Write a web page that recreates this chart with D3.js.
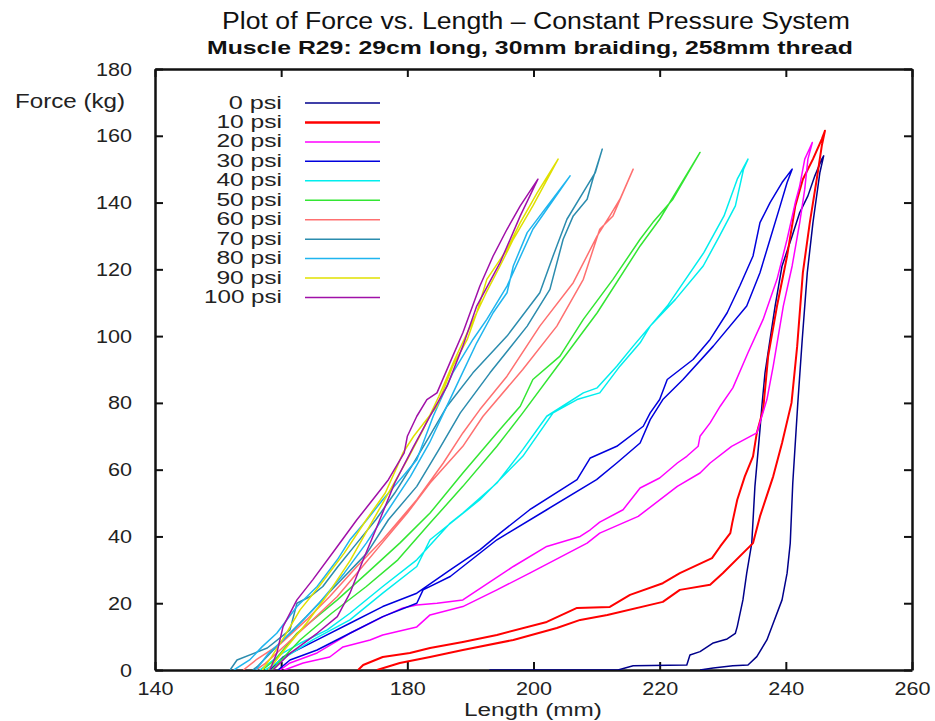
<!DOCTYPE html>
<html>
<head>
<meta charset="utf-8">
<script src="https://cdn.jsdelivr.net/npm/d3@7"></script>
<style>
  html, body { margin: 0; padding: 0; background: #fff; }
  svg { display: block; }
  text { font-family: "Liberation Sans", Arial, Helvetica, sans-serif; }
</style>
</head>
<body>
<svg id="chart" width="935" height="721"></svg>
<script>
// ---------- data ----------
const titleText = "Plot of Force vs. Length \u2013 Constant Pressure System";
const subtitleText = "Muscle R29: 29cm long, 30mm braiding, 258mm thread";
const xLabel = "Length (mm)";
const yLabel = "Force (kg)";
const xTicks = [140, 160, 180, 200, 220, 240, 260];
const yTicks = [0, 20, 40, 60, 80, 100, 120, 140, 160, 180];
const seriesNames = ["0 psi", "10 psi", "20 psi", "30 psi", "40 psi", "50 psi", "60 psi", "70 psi", "80 psi", "90 psi", "100 psi"];
const seriesColors = ["#00008b", "#ff0000", "#ff00ff", "#0000dd", "#00eeee", "#33e633", "#ff7070", "#2b8cae", "#1fb5ef", "#e0e000", "#a010a8"];

// each series: loading branch then unloading branch, [length mm, force kg]
const p0 = [[193,0],[213.4,0],[215.8,1.3],[224.3,1.5],[224.8,4.5],[226.4,5.5],[228.5,8.1],[230.7,9.3],[232,11],[232.3,13],[233.2,21],[233.8,29],[234.6,38],[235.1,55],[235.9,72],[236.2,79],[236.7,89],[237.5,99],[238.3,109],[239.4,121],[241,130],[242.2,137],[243.5,142],[244.6,148],[245.7,153],[246,154],
  [245.4,149],[244.3,134],[243.4,119],[242.6,99],[241.9,80],[241.1,56],[240.7,38],[240.2,29],[239.4,21],[238,14],[237,9],[235.4,4],[234,1.5],[231.6,1.3],[228.5,0.6],[226.4,0]];
const p10 = [[172.2,0],[173,1.5],[176.1,3.9],[180.4,5.1],[183.6,6.6],[188.8,8.4],[194.2,10.5],[202.1,14.4],[206.9,18.6],[212.1,18.9],[215.3,22.5],[220.5,26],[223.2,29],[228.3,33.5],[229.6,37],[231.2,41],[231.5,44],[232.3,51],[233.5,58],[234.8,64],[235.4,71],[236.4,78],[237.2,94],[238.6,109],[240.2,124],[241.5,139],[242.7,147],[244.3,153],[245.7,159],[246.2,161.5],
  [245.7,157],[244.9,147],[243.8,134],[242.7,119],[241.8,97],[240.9,80],[239.4,68],[238,58],[235.9,46],[234.8,38],[230,29],[228,25.5],[223.2,24],[220.5,20.4],[211.7,16.5],[207.4,15],[203.7,12.6],[196.8,9],[188.8,6],[183.6,3.9],[178.8,2.1],[175.2,0]];
const p20 = [[159.8,0],[161.4,2.1],[165.7,5.1],[170.9,11],[176.1,15.9],[179.3,18.6],[181.5,19.5],[184.7,20],[188.8,21],[196.8,31],[202.1,37],[207.4,40],[209,42],[210.5,44.3],[214.2,48],[216.9,54.5],[220,57.5],[222.8,62],[224.3,64],[226.1,67],[226.4,70],[228,74],[229.6,79],[231.6,84.5],[234,95],[236.4,105],[238.6,117],[240.2,129],[241.5,140],[242.2,145],[243,153],[244.2,158],
  [243.5,153],[243,144],[242.2,134],[241,121],[239.6,109],[238,91],[237,81],[235.4,71],[231.4,67],[228,62],[226.4,59],[222.8,55],[216.6,46],[210.5,41],[208.5,38],[199.4,29],[194.2,24],[188.8,19],[183.6,16.5],[181.5,12.9],[176.1,10.5],[174.1,9],[169.8,6.9],[167.7,3.9],[163.5,2.1],[160.5,0]];
const p30 = [[158.2,0],[160.3,3.9],[165.7,9],[170.9,14],[176.1,19],[181.5,23],[186.8,30],[191.5,36],[194.7,41],[199.4,48],[206.9,57],[209,63.5],[213.2,67],[217.4,73],[218.5,77],[220,81],[221.2,87],[225.3,93],[228,99],[230.7,107],[232.7,115],[234.8,124],[235.9,134],[237.5,140],[239.4,146],[241,150],
  [240.2,146],[239.1,139],[237.5,129],[235.9,119],[233.8,109],[228.5,97],[223.7,87],[220.5,81],[218.5,75],[216.9,68],[213.2,62],[210,57],[202.1,48],[194.2,39],[186.8,28],[182.5,24],[181.5,20],[176.1,16],[170.9,11],[165.7,6],[161.4,3],[159.5,0]];
const p40 = [[156.6,0],[160.3,5.1],[163,8],[167.3,12],[170.9,17],[176.1,25],[181.5,33],[186.8,44],[188.8,47],[194.2,56],[198.3,66],[202.1,76],[207.9,83],[210.1,84.5],[213.2,91],[215.8,97],[221.2,109],[227,125],[230.2,136],[232.3,147],[234,153],
  [233.3,150],[232,139],[229.5,130],[226.9,121],[222.5,111],[218.5,103],[216.9,98],[213.7,91],[210.5,83],[206.9,81],[203.1,77],[198.3,64],[191.5,51],[183.6,39],[181.5,31],[176.1,23],[170.9,15],[165,9],[160,3],[157.5,0]];
const p50 = [[157,0],[159,3],[162.5,11],[168.9,21],[173.6,29],[178.8,38],[183.6,47],[188.8,59],[194.2,71],[197.9,79],[199.9,87],[204.2,94],[207.9,105],[212.6,117],[216.9,129],[218.9,134],[222.1,141],[226.4,155],
  [220,135],[216.9,127],[210.1,107],[204.2,92],[198.3,77],[194.2,67],[188.8,55],[183.6,44],[178.5,33],[173.5,25],[168,17],[163,9],[160,3],[158.5,0]];
const p60 = [[154,0],[156,3],[160,8],[164,15],[167.7,22],[172,31],[176.1,39],[181.5,51],[185.7,62],[188.8,71],[191.5,78],[195.8,88],[201,103],[206.3,116],[210.1,130],[212.1,136],[213.7,141],[215.8,150],
  [214.2,143],[212.6,136],[210.5,132],[207.9,117],[203.7,103],[198.3,90],[192,76],[188.8,67],[183.6,56],[180,47],[176,38],[172,29],[168.9,22],[165,15],[161,8],[157.5,2],[156,0]];
const p70 = [[151.9,0],[153,3],[157.8,6.6],[161.4,12],[162.5,20],[164.6,22],[166.6,25],[169,31],[172,38],[175,45],[178,53],[181,62],[183.5,70],[186.3,79],[190.4,89],[195.8,100],[201,113],[203.1,124],[205.3,135],[208.5,145],[209.8,149],[210.9,156],
  [209.4,147],[208.5,141],[206.3,136],[204.7,129],[202.6,114],[199,103],[193.1,89],[188.4,77],[185,66],[181.5,55],[177,45],[173.6,35],[169,26],[164,16],[160.3,9],[156.2,1],[155.5,0]];
const p80 = [[152.5,0],[155,3],[157,7],[159.3,11],[162.5,19],[165.7,25],[168.9,33],[170.9,39],[173.6,45],[176.1,51],[179.3,58],[181.5,63],[184.1,76],[187.2,89],[190.4,99],[192.6,105],[195.8,115],[199.9,132],[205.8,148],
  [199,131],[196.8,121],[195.8,113],[193.6,107],[191,98],[188.5,88],[186,78],[183.5,68],[180.5,58],[177,48],[173.5,38],[170,29],[166,20],[162,12],[158,5],[156,0]];
const p90 = [[157,0],[158.5,4],[160.5,10],[163,18],[166,25],[170,35],[173.5,45],[176.5,53],[178.4,61],[179.3,65],[181,70],[184.7,79],[187.2,91],[189.5,99],[191,107],[192.6,117],[195.8,126],[197.9,134],[200.6,143],[203.9,153],
  [199.9,139],[196.8,129],[194.7,121],[192.5,113],[190,103],[187.5,93],[185,82],[182.5,72],[180,63],[177,53],[174,43],[171,33],[167.5,23],[164,14],[160.5,6],[158,0]];
const p100 = [[158.2,0],[159.3,5],[160.3,13],[162.5,21],[165,27],[168.9,37],[172,45],[174.1,50],[177,57],[179.5,65],[180,70],[181.5,76],[183.1,81],[184.7,83],[187.2,94],[188.8,101],[191.5,115],[193.6,124],[195.8,132],[197.9,139],[200.7,147],
  [197.9,136],[194.7,122],[191,109],[188.8,97],[186.3,85],[183.6,76],[181,67],[178,56],[175.2,43],[173,33],[170.9,23],[168.9,16],[165.7,11],[161.4,5],[158.7,0]];
const seriesData = [p0, p10, p20, p30, p40, p50, p60, p70, p80, p90, p100];

// ---------- drawing ----------
const svg = d3.select("#chart");
const mLeft = 155, mRight = 912, mTop = 69, mBottom = 670;
const x = d3.scaleLinear().domain([140, 260]).range([mLeft, mRight]);
const y = d3.scaleLinear().domain([0, 180]).range([mBottom, mTop]);

svg.append("text").attr("x", 536).attr("y", 29).attr("text-anchor", "middle")
  .attr("font-size", 23).attr("fill", "#111")
  .attr("textLength", 628).attr("lengthAdjust", "spacingAndGlyphs").text(titleText);
svg.append("text").attr("x", 530).attr("y", 54).attr("text-anchor", "middle")
  .attr("font-size", 19).attr("font-weight", "bold").attr("fill", "#111")
  .attr("textLength", 646).attr("lengthAdjust", "spacingAndGlyphs").text(subtitleText);

svg.append("defs").append("clipPath").attr("id", "clip")
  .append("rect").attr("x", mLeft).attr("y", mTop).attr("width", mRight - mLeft).attr("height", mBottom - mTop);

const line = d3.line().x(d => x(d[0])).y(d => y(d[1]));

const axisStyle = g => {
  g.select(".domain").attr("stroke", "#111").attr("stroke-width", 2.5);
  g.selectAll(".tick line").attr("stroke", "#111").attr("stroke-width", 2);
  g.selectAll(".tick text").attr("font-size", 19).attr("fill", "#222")
    .attr("font-family", "Liberation Sans, Arial, sans-serif")
    .attr("textLength", function() { return this.textContent.length * 12; })
    .attr("lengthAdjust", "spacingAndGlyphs");
};

svg.append("g").attr("transform", `translate(0,${mBottom})`)
  .call(d3.axisBottom(x).tickValues(xTicks).tickSize(-8).tickSizeOuter(0).tickPadding(12))
  .call(axisStyle);
svg.append("g").attr("transform", `translate(0,${mTop})`)
  .call(d3.axisTop(x).tickValues(xTicks).tickSize(-8).tickSizeOuter(0).tickFormat(""))
  .call(axisStyle);
svg.append("g").attr("transform", `translate(${mLeft},0)`)
  .call(d3.axisLeft(y).tickValues(yTicks).tickSize(-8).tickSizeOuter(0).tickPadding(23))
  .call(axisStyle);
svg.append("g").attr("transform", `translate(${mRight},0)`)
  .call(d3.axisRight(y).tickValues(yTicks).tickSize(-8).tickSizeOuter(0).tickFormat(""))
  .call(axisStyle);

const gLines = svg.append("g").attr("clip-path", "url(#clip)");
seriesData.forEach((data, i) => {
  gLines.append("path").datum(data)
    .attr("fill", "none")
    .attr("stroke", seriesColors[i])
    .attr("stroke-width", i === 1 ? 2 : 1.5)
    .attr("stroke-linejoin", "round")
    .attr("d", line);
});

// axis titles
svg.append("text").attr("x", 533).attr("y", 716).attr("text-anchor", "middle")
  .attr("font-size", 18).attr("fill", "#222")
  .attr("textLength", 138).attr("lengthAdjust", "spacingAndGlyphs").text(xLabel);
svg.append("text").attr("x", 15).attr("y", 108)
  .attr("font-size", 20).attr("fill", "#222")
  .attr("textLength", 110).attr("lengthAdjust", "spacingAndGlyphs").text(yLabel);

// legend
const legend = svg.append("g");
seriesNames.forEach((name, i) => {
  const ly = 103 + i * 19.45;
  const digits = name.split(" ")[0].length;
  legend.append("text").attr("x", 282).attr("y", ly + 5.5).attr("text-anchor", "end")
    .attr("font-size", 19).attr("fill", "#222")
    .attr("textLength", 41 + 12.3 * digits).attr("lengthAdjust", "spacingAndGlyphs").text(name);
  legend.append("line").attr("x1", 305).attr("x2", 380).attr("y1", ly).attr("y2", ly)
    .attr("stroke", seriesColors[i]).attr("stroke-width", i === 1 ? 2.5 : 1.5);
});
</script>
</body>
</html>
